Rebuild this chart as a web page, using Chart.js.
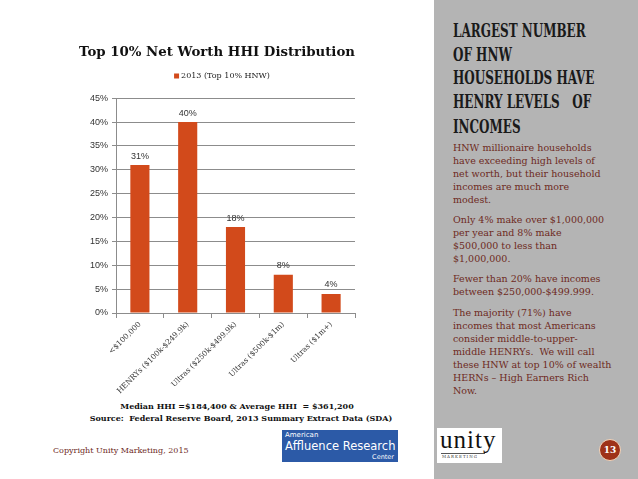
<!DOCTYPE html>
<html><head><meta charset="utf-8">
<script src="https://cdn.jsdelivr.net/npm/chart.js@4/dist/chart.umd.min.js"></script>
<style>
html,body{margin:0;padding:0;background:#fff;}
body{width:638px;height:479px;position:relative;overflow:hidden;font-family:"DejaVu Serif",serif;}
#chartBox{position:absolute;left:79px;top:40px;width:300px;height:360px;}
#panel{position:absolute;left:434px;top:0;width:204px;height:479px;background:#b4b4b4;}
.hl{position:absolute;left:453px;font-family:"DejaVu Serif Condensed","DejaVu Serif",serif;font-weight:bold;font-size:18px;line-height:24px;color:#1a1a1a;white-space:nowrap;transform-origin:0 0;transform:scaleX(0.74);}
#body{position:absolute;left:453px;top:141px;color:#6e2a1e;font-size:9.5px;line-height:13px;white-space:nowrap;}
#body p{margin:0 0 7px 0;}
.note{position:absolute;width:400px;text-align:center;font-weight:bold;font-size:8px;color:#111;white-space:nowrap;}
#copy{position:absolute;left:53px;top:446px;font-size:8px;color:#6e2a1e;white-space:nowrap;}
#aarc{position:absolute;left:282px;top:430px;width:116px;height:32px;background:#2c5aa7;color:#fff;font-family:"DejaVu Sans",sans-serif;}
#unity{position:absolute;left:437px;top:428px;width:65px;height:35px;background:#fff;}
#pg{position:absolute;left:599px;top:439px;width:20px;height:20px;border-radius:50%;background:#9e3219;border:1.5px solid #f3d6bc;color:#fff;font-weight:bold;font-size:9px;line-height:20px;text-align:center;}
</style></head>
<body>
<div id="chartBox"><canvas id="c" width="300" height="360"></canvas></div>
<div class="note" style="left:37px;top:401px;">Median HHI =$184,400 &amp; Average HHI&nbsp; = $361,200</div>
<div class="note" style="left:41px;top:413px;">Source:&nbsp; Federal Reserve Board, 2013 Summary Extract Data (SDA)</div>
<div id="copy">Copyright Unity Marketing, 2015</div>
<div id="aarc">
  <div style="position:absolute;left:3px;top:1px;font-size:7px;">American</div>
  <div style="position:absolute;left:3px;top:9px;font-size:11.5px;white-space:nowrap;">Affluence Research</div>
  <div style="position:absolute;right:4px;top:23px;font-size:6.5px;">Center</div>
</div>
<div id="panel"></div>
<div class="hl" style="top:19px;">LARGEST NUMBER</div>
<div class="hl" style="top:43px;">OF HNW</div>
<div class="hl" style="top:66px;">HOUSEHOLDS HAVE</div>
<div class="hl" style="top:90px;">HENRY LEVELS&nbsp;&nbsp; OF</div>
<div class="hl" style="top:115px;">INCOMES</div>
<div id="body">
<p>HNW millionaire households<br>have exceeding high levels of<br>net worth, but their household<br>incomes are much more<br>modest.</p>
<p>Only 4% make over $1,000,000<br>per year and 8% make<br>$500,000 to less than<br>$1,000,000.</p>
<p style="margin-bottom:8px;">Fewer than 20% have incomes<br>between $250,000-$499.999.</p>
<p>The majority (71%) have<br>incomes that most Americans<br>consider middle-to-upper-<br>middle HENRYs.&nbsp; We will call<br>these HNW at top 10% of wealth<br>HERNs – High Earners Rich<br>Now.</p>
</div>
<div id="unity">
  <div style="position:absolute;left:3px;top:-2px;font-family:'Liberation Serif',serif;font-size:25px;color:#111;letter-spacing:1px;">unity</div>
  <div style="position:absolute;left:4px;top:25px;width:44px;border-top:1px solid #555;"></div>
  <div style="position:absolute;left:5px;top:26px;font-size:4px;color:#333;letter-spacing:1px;">MARKETING</div>
</div>
<div id="pg">13</div>
<script>
const categories = ["<$100,000", "HENRYs ($100k-$249.9k)", "Ultras ($250k-$499.9k)", "Ultras ($500k-$1m)", "Ultras ($1m+)"];
const seriesName = "2013 (Top 10% HNW)";
const values = [31, 40, 18, 8, 4];
const yTickMax = 45;
const yTickStep = 5;
const chartTitle = "Top 10% Net Worth HHI Distribution";

const barColor = "#d24a1b";
const gridColor = "#8c8c8c";

const valueLabels = {
  id: "valueLabels",
  afterDatasetsDraw(chart) {
    const ctx = chart.ctx;
    const meta = chart.getDatasetMeta(0);
    ctx.save();
    ctx.font = "9px 'Liberation Sans', sans-serif";
    ctx.fillStyle = "#333";
    ctx.textAlign = "center";
    ctx.textBaseline = "middle";
    meta.data.forEach((bar, i) => {
      ctx.fillText(values[i] + "%", bar.x, bar.y - 9);
    });
    ctx.restore();
  }
};

// series legend drawn between title and plot
const seriesLegend = {
  id: "seriesLegend",
  afterDraw(chart) {
    const ctx = chart.ctx;
    const ds = chart.data.datasets[0];
    ctx.save();
    ctx.font = "8px 'DejaVu Serif', serif";
    const tw = ctx.measureText(ds.label).width;
    const box = 5, gap = 2;
    const total = box + gap + tw;
    const cx = 143, cy = 36;
    const x0 = cx - total / 2;
    ctx.fillStyle = ds.backgroundColor;
    ctx.fillRect(x0, cy - box / 2, box, box);
    ctx.fillStyle = "#222";
    ctx.textAlign = "left";
    ctx.textBaseline = "middle";
    ctx.fillText(ds.label, x0 + box + gap, cy);
    ctx.restore();
  }
};

new Chart(document.getElementById("c"), {
  type: "bar",
  data: {
    labels: categories,
    datasets: [{
      label: seriesName,
      data: values,
      backgroundColor: barColor,
      borderWidth: 0,
      barPercentage: 0.4,
      categoryPercentage: 1.0
    }]
  },
  options: {
    responsive: false,
    animation: false,
    devicePixelRatio: 1,
    layout: { padding: { left: 0, right: 24, top: 0, bottom: 0 } },
    plugins: {
      title: {
        display: true,
        text: chartTitle,
        color: "#111",
        font: { family: "'DejaVu Serif', serif", size: 13.5, weight: "bold" },
        padding: { top: 4, bottom: 38 }
      },
      legend: { display: false },
      tooltip: { enabled: false }
    },
    scales: {
      x: {
        grid: { display: true, drawOnChartArea: false, drawTicks: true, tickLength: 5, color: gridColor },
        border: { display: true, color: gridColor },
        ticks: {
          color: "#333",
          font: { family: "'DejaVu Serif', serif", size: 7.5 },
          minRotation: 45, maxRotation: 45, padding: 2, autoSkip: false
        },
        afterFit(s) { s.height = 87; }
      },
      y: {
        min: 0, max: yTickMax,
        grid: { color: gridColor, tickLength: 4 },
        border: { display: true, color: gridColor },
        ticks: {
          stepSize: yTickStep,
          color: "#333",
          font: { family: "'Liberation Sans', sans-serif", size: 9 },
          padding: 4,
          callback: v => v + "%"
        },
        afterFit(s) { s.width = 37; }
      }
    }
  },
  plugins: [valueLabels, seriesLegend]
});
</script>
</body></html>
